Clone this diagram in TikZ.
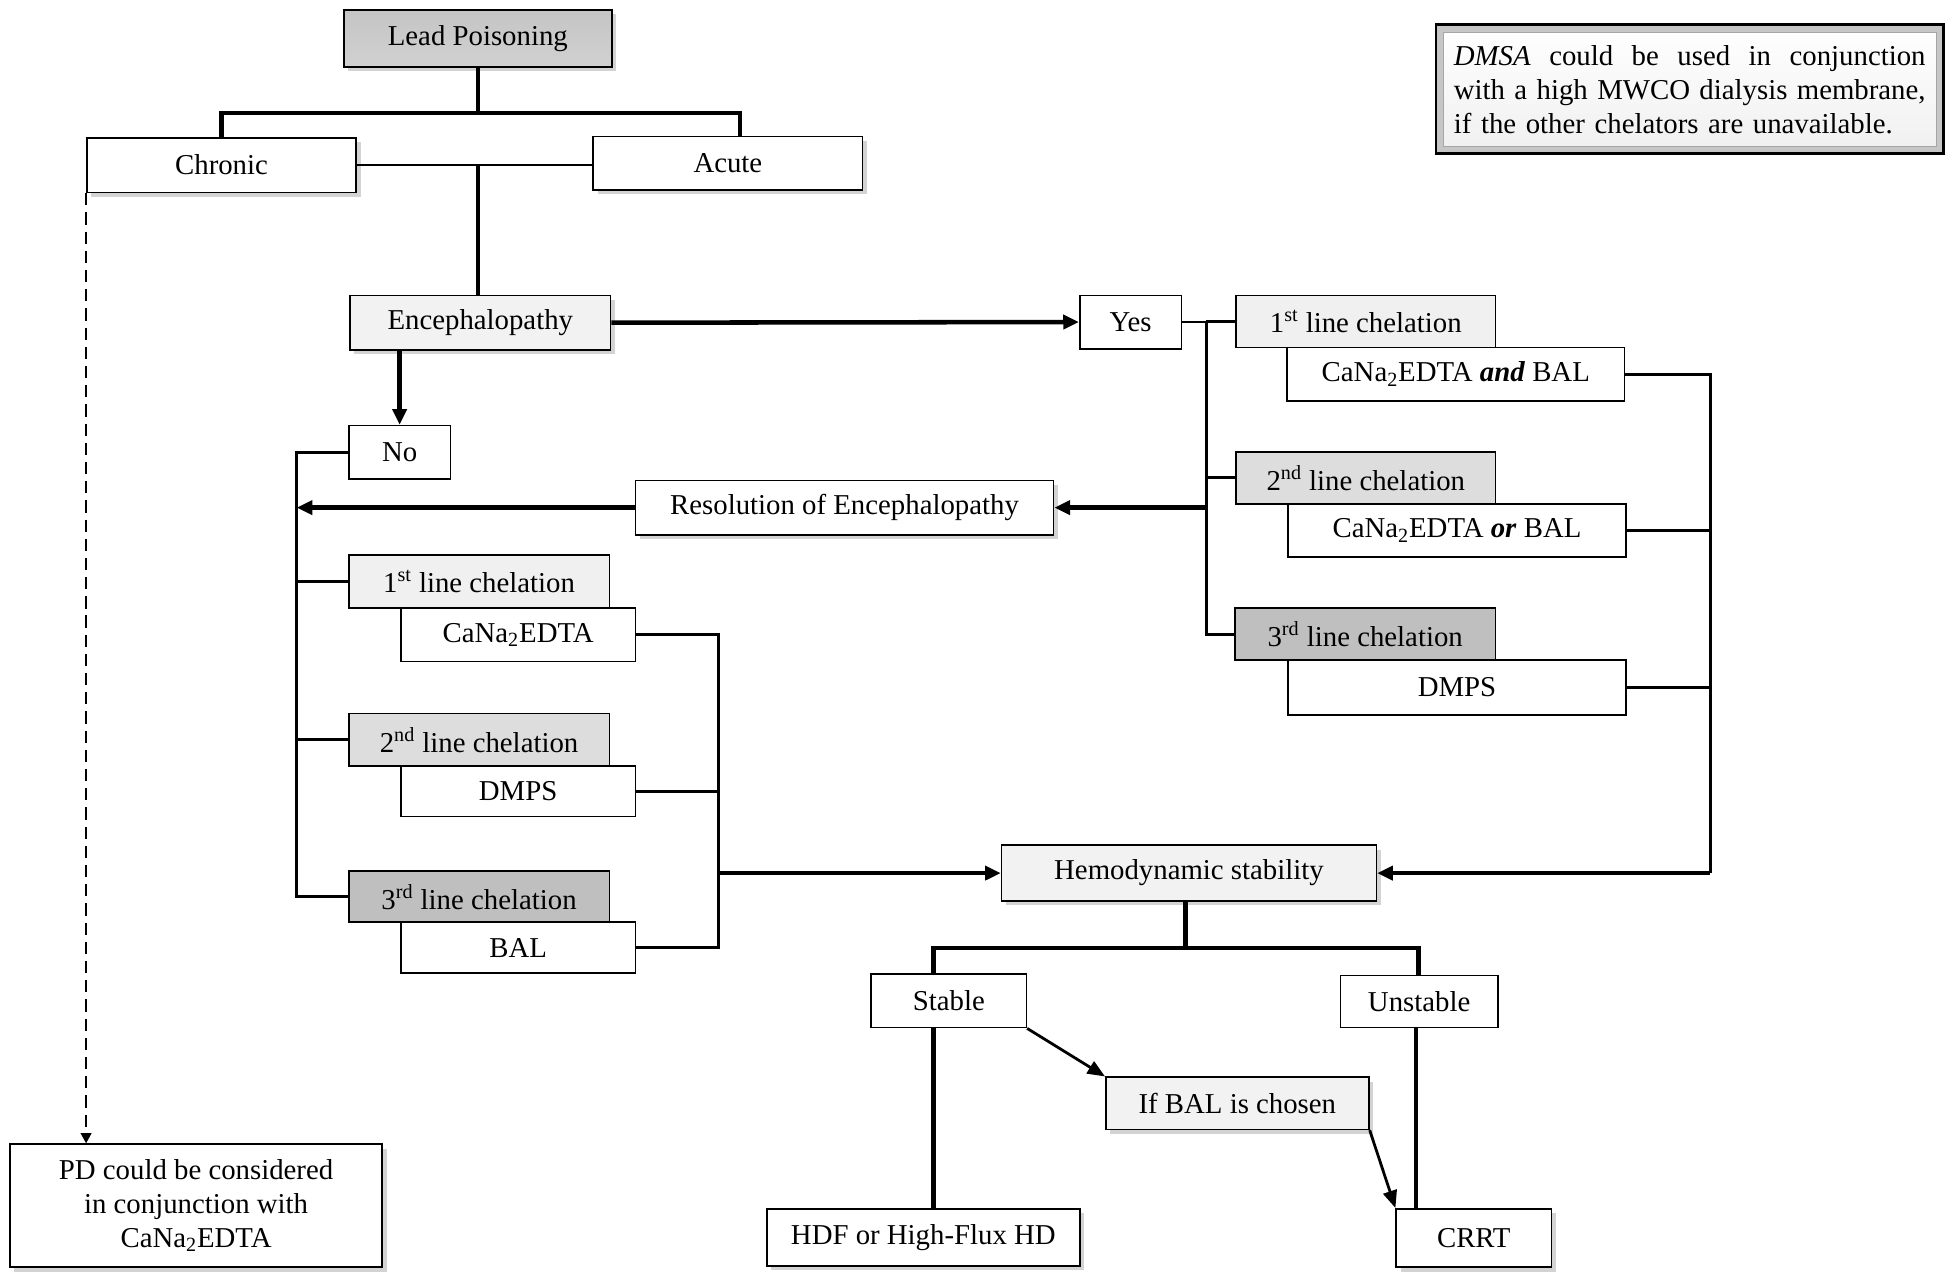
\documentclass[tikz,border=0pt]{standalone}
\usepackage{fontspec}
\setmainfont{Liberation Serif}
\usepackage{tikz}
\usetikzlibrary{arrows.meta,shadows}

\begin{document}
\begin{tikzpicture}[
  x=0.025cm, y=-0.025cm,
  >={Triangle[length=9pt,width=8pt]},
  every node/.style={font=\fontsize{16.5}{19.5}\selectfont,inner sep=0pt},
  sz/.style 2 args={minimum width=#1*0.025cm,minimum height=#2*0.025cm},
  box/.style={rectangle,draw,line width=0.9pt,fill=white,align=center},
  shd/.style={drop shadow={shadow xshift=2.5pt,shadow yshift=-2.5pt,opacity=0.35}},
  lite/.style={fill=gray!10},
  chA/.style={box,fill=gray!12},
  chB/.style={box,fill=gray!27},
  chC/.style={box,fill=gray!50},
  bold/.style={line width=2.6pt},
  mid/.style={line width=1.6pt},
  thn/.style={line width=1pt},
  arr/.style={bold,->},
  marr/.style={mid,-{Triangle[length=10pt,width=8pt]}},
  dsh/.style={line width=1.5pt,dash pattern=on 7pt off 4pt,-{Triangle[length=6pt,width=6pt]}}]

  \useasboundingbox (0,0) rectangle (1568,1037);

  % top of the tree
  \node[box,sz={216}{46},shd,top color=gray!46,bottom color=gray!36] (lead) at (385,31) {Lead Poisoning};
  \node[box,sz={217}{44},shd] (chronic) at (178.5,133) {Chronic};
  \node[box,sz={217}{43},shd] (acute) at (586.5,131.5) {Acute};
  \node[box,sz={210}{44},shd,lite] (enc) at (387,260) {Encephalopathy};
  \node[box,sz={82}{43}] (yes) at (911,259.5) {Yes};
  \node[box,sz={82}{43}] (no) at (322,364.5) {No};
  \node[box,sz={337}{44},shd] (resol) at (680.5,409) {Resolution of Encephalopathy};

  % note
  \node[box,sz={409}{104},line width=1.6pt,fill=gray!45,
    path picture={\draw[gray!70,line width=0.6pt,top color=white,bottom color=gray!12]
      ([shift={(0.15cm,-0.15cm)}]path picture bounding box.north west) rectangle
      ([shift={(-0.15cm,0.15cm)}]path picture bounding box.south east);},
    text width=9.5cm,align=left] (dmsa) at (1361.5,72)
    {\makebox[9.5cm][l]{\textit{DMSA}\hfill could\hfill be\hfill used\hfill in\hfill conjunction}\\
     \makebox[9.5cm][l]{with\hfill a\hfill high\hfill MWCO\hfill dialysis\hfill membrane,}\\
     if the other chelators are unavailable.};

  % encephalopathy: yes
  \node[chA,sz={209}{42}] (r1) at (1100.5,259) {1\textsuperscript{st} line chelation};
  \node[box,sz={272}{43}] (r1d) at (1173,301.5) {CaNa\textsubscript{2}EDTA \textbf{\textit{and}} BAL};
  \node[chB,sz={209}{42}] (r2) at (1100.5,385) {2\textsuperscript{nd} line chelation};
  \node[box,sz={272}{43}] (r2d) at (1174,427.5) {CaNa\textsubscript{2}EDTA \textbf{\textit{or}} BAL};
  \node[chC,sz={210}{42}] (r3) at (1100,511) {3\textsuperscript{rd} line chelation};
  \node[box,sz={272}{44}] (r3d) at (1174,554) {DMPS};

  % encephalopathy: no
  \node[chA,sz={210}{43}] (l1) at (386,468.5) {1\textsuperscript{st} line chelation};
  \node[box,sz={189}{43}] (l1d) at (417.5,511.5) {CaNa\textsubscript{2}EDTA};
  \node[chB,sz={210}{42}] (l2) at (386,596) {2\textsuperscript{nd} line chelation};
  \node[box,sz={189}{41}] (l2d) at (417.5,637.5) {DMPS};
  \node[chC,sz={210}{41}] (l3) at (386,722.5) {3\textsuperscript{rd} line chelation};
  \node[box,sz={189}{41}] (l3d) at (417.5,763.5) {BAL};

  % dialysis
  \node[box,sz={302}{45},shd,lite] (hemo) at (958,703.5) {Hemodynamic stability};
  \node[box,sz={125}{43}] (stable) at (764.5,806.5) {Stable};
  \node[box,sz={127}{42}] (unstable) at (1143.5,807) {Unstable};
  \node[box,sz={212}{42},shd,lite] (ifbal) at (997,889) {If BAL is chosen};
  \node[box,sz={252}{46},shd] (hdf) at (744,997) {HDF or High-Flux HD};
  \node[box,sz={125}{47},shd] (crrt) at (1187.5,997.5) {CRRT};
  \node[box,sz={300}{99},shd] (pd) at (158,971.5) {PD could be considered\\in conjunction with\\CaNa\textsubscript{2}EDTA};

  \coordinate (split1) at (385,91);
  \coordinate (lbus) at (239,722.5);
  \coordinate (rbus) at (972,511);
  \coordinate (rdbus) at (1378,703.5);
  \coordinate (ldbus) at (579,511.5);
  \coordinate (split2) at (955,764);
  \coordinate (sl) at (752,764);
  \coordinate (ul) at (1143,764);

  % lines
  \draw[bold] (lead.south) -- (split1);
  \draw[bold] (chronic.north) |- (split1) -| ([xshift=0.24cm]acute.north);
  \draw[thn] (chronic.east) -- (chronic.east -| acute.west);
  \draw[bold] (enc.north -| split1) -- (split1 |- chronic.east);
  \draw[dsh] (chronic.south west) -- (chronic.south west |- pd.north);

  \draw[arr] (enc.east) -- (yes.west);
  \draw[arr] (no.north |- enc.south) -- (no.north);

  \draw[mid] (no.west) -| (lbus) -- (l3.west);
  \draw[mid] (l1.west) -- (l1.west -| lbus);
  \draw[mid] (l2.west) -- (l2.west -| lbus);
  \draw[arr] (resol.west) -- (resol.west -| lbus);

  \draw[mid] (yes.east) -| (rbus) -- (r3.west);
  \draw[mid] (r1.west) -- (r1.west -| rbus);
  \draw[mid] (r2.west) -- (r2.west -| rbus);
  \draw[arr] (resol.east -| rbus) -- (resol.east);

  \draw[mid] (r1d.east) -| (rdbus);
  \draw[mid] (r2d.east) -- (r2d.east -| rdbus);
  \draw[mid] (r3d.east) -- (r3d.east -| rdbus);
  \draw[arr] (rdbus) -- (hemo.east);

  \draw[mid] (l1d.east) -- (ldbus) |- (l3d.east);
  \draw[mid] (l2d.east) -- (l2d.east -| ldbus);
  \draw[arr] (hemo.west -| ldbus) -- (hemo.west);

  \draw[bold] (hemo.south -| split2) -- (split2);
  \draw[bold] (sl |- stable.north) -- (sl) -- (ul) -- (ul |- unstable.north);
  \draw[bold] (sl |- stable.south) -- (sl |- hdf.north);
  \draw[bold] ([xshift=-0.06cm]unstable.south) -- ([xshift=-0.06cm]unstable.south |- crrt.north);
  \draw[marr] (stable.south east) -- (ifbal.north west);
  \draw[marr] (ifbal.south east) -- (crrt.north west);
\end{tikzpicture}
\end{document}
